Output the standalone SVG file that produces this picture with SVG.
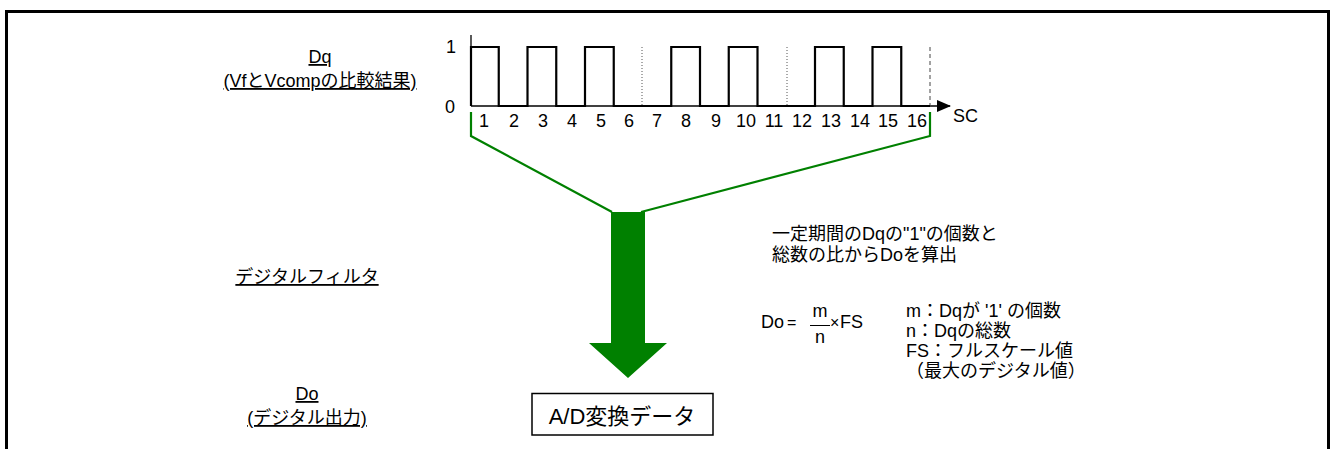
<svg xmlns="http://www.w3.org/2000/svg" width="1330" height="449" viewBox="0 0 1330 449">
<defs>
<style>
text{font-family:"Liberation Sans","Noto Sans CJK JP",sans-serif;fill:#000;}
.t18{font-size:18px;}
.t16{font-size:16px;}
.c{text-anchor:middle;}
.u{text-decoration:underline;}
.wave{fill:none;stroke:#000;stroke-width:2.2;}
.g{fill:none;stroke:#008000;stroke-width:2.2;}
</style>
<marker id="ah" markerWidth="14" markerHeight="12" refX="13" refY="6" orient="auto" markerUnits="userSpaceOnUse">
<path d="M0,0 L14,6 L0,12 Z" fill="#000"/>
</marker>
</defs>
<rect width="1330" height="449" fill="#fff"/>
<path d="M6.5,449 V11.5 H1328.5 V449" fill="none" stroke="#000" stroke-width="3"/>

<g id="labels-left">
<text class="t18 c u" x="320" y="63">Dq</text>
<text class="t18 c u" x="320" y="87">(VfとVcompの比較結果)</text>
<text class="t18 c u" x="307" y="283">デジタルフィルタ</text>
<text class="t18 c u" x="307" y="400">Do</text>
<text class="t18 c u" x="307" y="424">(デジタル出力)</text>
</g>

<g id="chart">
<line x1="471" y1="35" x2="471" y2="106" stroke="#000" stroke-width="1.3"/>
<line x1="471" y1="106" x2="950" y2="106" stroke="#000" stroke-width="1.3" marker-end="url(#ah)"/>
<line x1="642" y1="47" x2="642" y2="106" stroke="#555" stroke-width="1" stroke-dasharray="1,2"/>
<line x1="787" y1="47" x2="787" y2="106" stroke="#555" stroke-width="1" stroke-dasharray="1,2"/>
<line x1="930" y1="47" x2="930" y2="106" stroke="#444" stroke-width="1" stroke-dasharray="4,3"/>
<path class="wave" d="M471,106 V47 H498.75 V106 H527.5 V47 H556.25 V106 H585 V47 H613.75 V106 H671.25 V47 H700 V106 H728.75 V47 H757.5 V106 H815 V47 H843.75 V106 H872.5 V47 H901.25 V106 H930"/>
<text class="t18" x="446" y="53">1</text>
<text class="t18" x="445" y="113">0</text>
<text class="t18" x="953" y="122">SC</text>
<g class="t18 c">
<text x="484" y="127">1</text><text x="514" y="127">2</text><text x="543" y="127">3</text><text x="572" y="127">4</text>
<text x="601" y="127">5</text><text x="629" y="127">6</text><text x="657" y="127">7</text><text x="686" y="127">8</text>
<text x="716" y="127">9</text><text x="746" y="127">10</text><text x="774" y="127">11</text><text x="802" y="127">12</text>
<text x="831" y="127">13</text><text x="860" y="127">14</text><text x="888" y="127">15</text><text x="917" y="127">16</text>
</g>
</g>

<g id="connectors">
<path class="g" d="M471,112 V136 L612,212"/>
<path class="g" d="M930,112 V136 L641,212"/>
<polygon points="611,212 645,212 645,343 667,343 628,378 589,343 611,343" fill="#008000"/>
</g>

<g id="description">
<text class="t18" x="772" y="240">一定期間のDqの"1"の個数と</text>
<text class="t18" x="772" y="261">総数の比からDoを算出</text>
</g>

<g id="formula">
<text class="t18" x="761" y="328">Do</text>
<text class="t16" x="787" y="328">=</text>
<text class="t18 c" x="820" y="317">m</text>
<line x1="810" y1="325.5" x2="830" y2="325.5" stroke="#000" stroke-width="1"/>
<text class="t18 c" x="820" y="343">n</text>
<text class="t16" x="830" y="328">×</text>
<text class="t18" x="840" y="328">FS</text>
</g>

<g id="legend">
<text class="t18" x="906" y="317">m：Dqが '1' の個数</text>
<text class="t18" x="906" y="337">n：Dqの総数</text>
<text class="t18" x="906" y="357">FS：フルスケール値</text>
<text class="t18" x="906" y="377">（最大のデジタル値）</text>
</g>

<g id="ad-data">
<rect x="532" y="393.5" width="181" height="41.5" fill="#fff" stroke="#000" stroke-width="1.5"/>
<text x="622" y="424" class="c" font-size="22">A/D変換データ</text>
</g>
</svg>
